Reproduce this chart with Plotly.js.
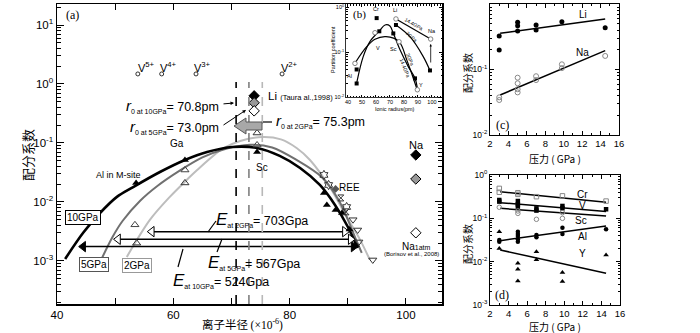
<!DOCTYPE html>
<html><head><meta charset="utf-8">
<script src="https://cdn.plot.ly/plotly-3.0.1.min.js"></script>
<style>html,body{margin:0;padding:0;background:#fff}#chart{width:700px;height:333px}</style>
</head><body><div id="chart"></div>
<script>
// ================= DATA =================
// (a) lattice-strain fits: ionic radius (pm) -> partition coefficient
const fit10_r = [41.4,44.5,47.4,50.3,53.1,57.7,62.0,65.8,70.2,74.4,78.3,81.8,85.2,87.8,90.0,91.7];
const fit10_D = [0.00108,0.0030,0.0065,0.0122,0.0179,0.0322,0.0515,0.0703,0.0855,0.0822,0.0603,0.0377,0.0194,0.0089,0.0038,0.00166];
const fit5_r  = [47.7,49.5,51.3,54.3,57.2,61.1,65.0,68.5,73.2,77.0,81.2,85.5,88.5,91.5,92.4];
const fit5_D  = [0.0011,0.0025,0.0048,0.0105,0.0185,0.034,0.057,0.077,0.093,0.084,0.0515,0.0265,0.0105,0.0022,0.00137];
const fit2_r  = [52.0,56.0,59.4,62.3,64.1,68.5,71.5,75.4,78.5,81.2,83.5,86.9,89.8,92.1,93.8];
const fit2_D  = [0.00117,0.0050,0.0122,0.0236,0.0348,0.080,0.108,0.126,0.115,0.0822,0.0515,0.0179,0.0056,0.0023,0.00104];
// (a) measured points
const p10_r = [53.6,62.0,74.4,85.9,86.4,87.9,89.0,90.3,91.4];
const p10_D = [0.021,0.0515,0.0703,0.0142,0.0089,0.0073,0.0065,0.0034,0.00187];
const p5_r  = [53.4,62.0,74.4];
const p5_D  = [0.0041,0.0348,0.0925];
const p2_r  = [53.7,62.0,74.4];
const p2_D  = [0.0020,0.021,0.1476];
const reeDown_r = [90.9,91.7,91.9,94.3];
const reeDown_D = [0.0050,0.00335,0.0021,0.00104];
const reeStar_r = [85.9,86.7,89.8];
const reeStar_D = [0.0287,0.0194,0.0082];
const reeHour_r = [88.8,89.7];
const reeHour_D = [0.0117,0.0068];
const reeDia_r = [87.9];
const reeDia_D = [0.0166];
const li_r = [73.9,73.9,73.9];
const li_D = [0.63,0.48,0.35];
const na_r = [101.7,101.7,101.7];
const na_D = [0.0626,0.0245,0.0030];
const vIon_r = [53.9,58.0,63.9,78.7];
const vIon_D = [1.48,1.48,1.48,1.48];
const vIon_lbl = ['V<sup>5+</sup>','V<sup>4+</sup>','V<sup>3+</sup>','V<sup>2+</sup>'];
const r0_values = [70.8,73.0,75.3];           // pm, at 10, 5, 2 GPa
const E_values  = [524,567,703];              // GPa, at 10, 5, 2 GPa
const eLeft  = [44.5,50.5,56.3];              // 10, 5, 2 GPa arrows
const eRight = [91.0,90.5,89.5];
const eLevel = [0.00175,0.00233,0.00314];
// (b) inset: ionic radius (pm) vs partition coefficient
const bUp_r  = [46.2,50.9,55.7,62.4,66.5,70.0,72.4,77.2,83.1,87.9,89.5];
const bUp_D  = [0.0203,0.0793,0.171,0.295,0.401,0.381,0.262,0.112,0.0475,0.0262,0.0165];
const bLow_r = [45.0,53.4,59.3,67.2,76.5,82.0,86.7,89.5];
const bLow_D = [0.0565,0.132,0.193,0.220,0.171,0.067,0.0262,0.0144];
const bLiNaHi_r = [74.3,99.1];
const bLiNaHi_D = [0.546,0.195];
const bLiNaLo_r = [74.3,84.3,93.8,98.6];
const bLiNaLo_D = [0.401,0.220,0.0793,0.0387];
const bSq_r = [60.5,74.3,98.6,62.4,72.4,46.2,46.2,87.9];
const bSq_D = [0.57,0.40,0.039,0.29,0.26,0.041,0.020,0.026];
const bCi_r = [74.3,99.1,59.3,76.5,45.0,89.6];
const bCi_D = [0.546,0.195,0.27,0.17,0.056,0.0145];
// (c) pressure (GPa) vs partition coefficient
const cLi_P = [3,3,5,5,5,7,7,9.8,14.5];
const cLi_D = [0.325,0.198,0.525,0.466,0.387,0.478,0.401,0.537,0.435];
const cLiFit_P = [3.1,14.5], cLiFit_D = [0.357,0.590];
const cNa_P = [3,3,5,5,5,5,7,7,9.8,9.8,14.5];
const cNa_D = [0.0376,0.0342,0.075,0.0616,0.050,0.0447,0.079,0.069,0.12,0.105,0.161];
const cNaFit_P = [3.1,14.5], cNaFit_D = [0.0408,0.194];
// (d)
const dCr_P = [3,3,5,5,7,9.8,14.5];
const dCr_D = [0.49,0.40,0.39,0.358,0.316,0.33,0.25];
const dCrFit_P = [3.1,14.5], dCrFit_D = [0.41,0.234];
const dV_P = [3,3,5,5,5,7,7,9.8,9.8,14.5];
const dV_D = [0.265,0.243,0.251,0.21,0.186,0.17,0.151,0.193,0.17,0.162];
const dVFit_P = [3.1,14.5], dVFit_D = [0.23,0.143];
const dSc_P = [3,5,5,7,9.8,9.8];
const dSc_D = [0.18,0.148,0.13,0.095,0.1,0.135];
const dScFit_P = [3.1,14.5], dScFit_D = [0.17,0.113];
const dAl_P = [3,3,5,5,5,5,5,7,7,9.8,9.8,14.5];
const dAl_D = [0.0316,0.0289,0.049,0.0436,0.039,0.0328,0.0289,0.041,0.0365,0.061,0.0436,0.056];
const dAlFit_P = [3.1,14.5], dAlFit_D = [0.0305,0.0665];
const dY_P = [3,3,5,5,5,7,7,9.8,9.8,14.5];
const dY_D = [0.049,0.020,0.0092,0.0067,0.0036,0.017,0.011,0.0056,0.0035,0.0142];
const dYFit_P = [3.1,14.5], dYFit_D = [0.0186,0.0054];

// ================= STYLE / LAYOUT =================
const W=700,H=333;
const SANS='"Liberation Sans",Arial,sans-serif';
const SERIF='"Liberation Serif","Times New Roman",serif';
const CJK='"Noto Sans CJK SC","Noto Sans",sans-serif';
function minorVals(lo,hi){const v=[];for(let e=lo;e<hi;e++)for(let m=2;m<=9;m++)v.push(+(m*Math.pow(10,e)).toPrecision(3));return v;}
function sup(e){return '10<sup>'+e+'</sup>';}
function A(x,y,text,o){o=o||{};const f=Object.assign({family:SANS,size:10,color:'#000'},o.font||{});const a=Object.assign({xref:'paper',yref:'paper',x:x/W,y:1-y/H,text:text,showarrow:false,xanchor:'center',yanchor:'middle'},o);a.font=f;return a;}
function L(x0,y0,x1,y1,c,w,d){return {type:'line',xref:'paper',yref:'paper',x0:x0/W,y0:1-y0/H,x1:x1/W,y1:1-y1/H,line:{color:c||'#000',width:w||1,dash:d||'solid'}};}
function base(o){return Object.assign({showline:true,linecolor:'#000',linewidth:1,mirror:'ticks',ticks:'inside',tickcolor:'#000',showgrid:false,zeroline:false,fixedrange:true},o);}

const tr=[];
const M=(o)=>Object.assign({xaxis:'x',yaxis:'y',hoverinfo:'skip',showlegend:false},o);
tr.push(M({x:fit2_r,y:fit2_D,mode:'lines',line:{color:'#bdbdbd',width:2,shape:'spline',smoothing:0.9}}));
tr.push(M({x:fit5_r,y:fit5_D,mode:'lines',line:{color:'#707070',width:2,shape:'spline',smoothing:0.9}}));
tr.push(M({x:fit10_r,y:fit10_D,mode:'lines',line:{color:'#000',width:2.6,shape:'spline',smoothing:0.9}}));
// E arrows
const eFill=['#000','#fff','#fff'];
for(let i=0;i<3;i++){
  tr.push(M({x:[eLeft[i],eRight[i]],y:[eLevel[i],eLevel[i]],mode:'lines+markers',line:{color:'#000',width:1.5},
    marker:{symbol:['triangle-left','triangle-right'],size:9,color:eFill[i],line:{color:'#000',width:1}},cliponaxis:false}));
}
tr.push(M({x:p10_r,y:p10_D,mode:'markers',marker:{symbol:'triangle-up',size:7,color:'#000'}}));
tr.push(M({x:p5_r,y:p5_D,mode:'markers',marker:{symbol:'triangle-up-open',size:7,color:'#444',line:{width:1}}}));
tr.push(M({x:p2_r,y:p2_D,mode:'markers',marker:{symbol:'triangle-up-open',size:7,color:'#333',line:{width:1}}}));
tr.push(M({x:reeDown_r,y:reeDown_D,mode:'markers',marker:{symbol:'triangle-down-open',size:7,color:'#333',line:{width:1}}}));
tr.push(M({x:reeStar_r,y:reeStar_D,mode:'markers',marker:{symbol:'hexagram-open',size:7,color:'#333',line:{width:1}}}));
tr.push(M({x:reeHour_r,y:reeHour_D,mode:'markers',marker:{symbol:'hourglass-open',size:6,color:'#333',line:{width:1}}}));
tr.push(M({x:reeDia_r,y:reeDia_D,mode:'markers',marker:{symbol:'diamond',size:6,color:'#555'}}));
tr.push(M({x:li_r,y:li_D,mode:'markers',marker:{symbol:'diamond',size:8,color:['#000','#999','#fff'],line:{color:'#000',width:1}}}));
tr.push(M({x:na_r,y:na_D,mode:'markers',marker:{symbol:'diamond',size:8,color:['#000','#999','#fff'],line:{color:'#000',width:1}}}));
tr.push(M({x:vIon_r,y:vIon_D,mode:'markers',marker:{symbol:'circle-open',size:4,color:'#000',line:{width:0.8}}}));
// inset (b)
const B=(o)=>Object.assign({xaxis:'x2',yaxis:'y2',hoverinfo:'skip',showlegend:false},o);
tr.push(B({x:bUp_r,y:bUp_D,mode:'lines',line:{color:'#000',width:1.2,shape:'spline'}}));
tr.push(B({x:bLow_r,y:bLow_D,mode:'lines',line:{color:'#000',width:1.2,shape:'spline'}}));
tr.push(B({x:bLiNaHi_r,y:bLiNaHi_D,mode:'lines',line:{color:'#000',width:1.2}}));
tr.push(B({x:bLiNaLo_r,y:bLiNaLo_D,mode:'lines',line:{color:'#000',width:1.2,shape:'spline'}}));
tr.push(B({x:bSq_r,y:bSq_D,mode:'markers',marker:{symbol:'square',size:4,color:'#000'}}));
tr.push(B({x:bCi_r,y:bCi_D,mode:'markers',marker:{symbol:'circle',size:4.5,color:'#fff',line:{color:'#666',width:0.8}}}));
// (c)
const C=(o)=>Object.assign({xaxis:'x3',yaxis:'y3',hoverinfo:'skip',showlegend:false},o);
tr.push(C({x:cLiFit_P,y:cLiFit_D,mode:'lines',line:{color:'#000',width:1.5}}));
tr.push(C({x:cNaFit_P,y:cNaFit_D,mode:'lines',line:{color:'#000',width:1.5}}));
tr.push(C({x:cLi_P,y:cLi_D,mode:'markers',marker:{symbol:'circle',size:5,color:'#000'}}));
tr.push(C({x:cNa_P,y:cNa_D,mode:'markers',marker:{symbol:'circle-open',size:5,color:'#888',line:{width:1}}}));
// (d)
const D=(o)=>Object.assign({xaxis:'x4',yaxis:'y4',hoverinfo:'skip',showlegend:false},o);
[[dCrFit_P,dCrFit_D],[dVFit_P,dVFit_D],[dScFit_P,dScFit_D],[dAlFit_P,dAlFit_D],[dYFit_P,dYFit_D]].forEach(f=>
  tr.push(D({x:f[0],y:f[1],mode:'lines',line:{color:'#000',width:1.5}})));
tr.push(D({x:dCr_P,y:dCr_D,mode:'markers',marker:{symbol:'square-open',size:4.5,color:'#888',line:{width:1}}}));
tr.push(D({x:dV_P,y:dV_D,mode:'markers',marker:{symbol:'square',size:4.5,color:'#000'}}));
tr.push(D({x:dSc_P,y:dSc_D,mode:'markers',marker:{symbol:'circle-open',size:4.5,color:'#888',line:{width:1}}}));
tr.push(D({x:dAl_P,y:dAl_D,mode:'markers',marker:{symbol:'circle',size:4.5,color:'#000'}}));
tr.push(D({x:dY_P,y:dY_D,mode:'markers',marker:{symbol:'triangle-up',size:5,color:'#000'}}));

function r0text(p,v){return '<span style="font-size:15px"><i>r</i></span><sub><span style="font-size:7px">0 at '+p+'</span></sub>= '+v.toFixed(1)+'pm';}
function Etext(p,v){return '<span style="font-size:17px"><i>E</i></span><sub><span style="font-size:7px">at '+p+'</span></sub>= '+v+'Gpa';}

const ann=[
  A(72,15,'(a)',{font:{family:SERIF,size:12}}),
  A(146,67,vIon_lbl[0],{font:{size:11}}), A(168,67,vIon_lbl[1],{font:{size:11}}),
  A(202,67,vIon_lbl[2],{font:{size:11}}), A(289,67,vIon_lbl[3],{font:{size:11}}),
  A(221,106,r0text('10GPa',r0_values[0]),{xanchor:'right',font:{size:12.5}}),
  A(221,127,r0text('5GPa',r0_values[1]),{xanchor:'right',font:{size:12.5}}),
  A(274,121,r0text('2GPa',r0_values[2]),{xanchor:'left',font:{size:12.5}}),
  {xref:'paper',yref:'paper',x:234/W,y:1-103/H,ax:-12,ay:1,showarrow:true,arrowhead:2,arrowsize:0.7,arrowwidth:1,arrowcolor:'#000',text:''},
  {xref:'paper',yref:'paper',x:246/W,y:1-110/H,ax:-24,ay:16,showarrow:true,arrowhead:2,arrowsize:0.7,arrowwidth:1,arrowcolor:'#000',text:''},
  A(266,96,'Li <span style="font-size:7.5px">(Taura al.,1998)</span>',{xanchor:'left',font:{size:11.5}}),
  A(177,143,'Ga',{font:{size:10}}),
  A(118,175,'Al in M-site',{font:{size:9}}),
  A(262,168,'Sc',{font:{size:10}}),
  A(349,187,'REE',{font:{size:10}}),
  A(416,145,'Na',{font:{size:11}}),
  A(416,246,'Na<span style="font-size:7px">1atm</span>',{font:{size:10}}),
  A(411,254,'(Borisov et al., 2008)',{font:{size:6}}),
  A(83,217,'10GPa',{bordercolor:'#000',borderwidth:1,borderpad:1,bgcolor:'#fff',font:{size:10}}),
  A(94,264,'5GPa',{bordercolor:'#555',borderwidth:1,borderpad:1,bgcolor:'#fff',font:{size:10}}),
  A(137,265,'2GPa',{bordercolor:'#999',borderwidth:1,borderpad:1,bgcolor:'#fff',font:{size:10}}),
  A(214,219,Etext('2GPa',E_values[2]),{xanchor:'left',font:{size:12.5}}),
  A(206,262,Etext('5GPa',E_values[1]),{xanchor:'left',font:{size:12.5}}),
  A(171,280,Etext('10GPa',E_values[0]),{xanchor:'left',font:{size:12.5}}),
  // axis titles
  A(242,324,'离子半径 <span style="font-family:Liberation Serif">(×10<sup>-6</sup>)</span>',{font:{family:CJK,size:11.5}}),
  A(27,155,'配分系数',{textangle:-90,font:{family:CJK,size:13}}),
  A(555,158,'压力 ( GPa )',{font:{family:CJK,size:10}}),
  A(467,73,'配分系数',{textangle:-90,font:{family:CJK,size:10}}),
  A(555,326,'压力 ( GPa )',{font:{family:CJK,size:10}}),
  A(467,244,'配分系数',{textangle:-90,font:{family:CJK,size:10}}),
  // inset
  A(360,14,'(b)',{font:{family:SERIF,size:11}}),
  A(395,109,'Ionic radius(pm)',{font:{size:5.5}}),
  A(333,50,'Partition coefficient',{textangle:-90,font:{size:5.5}}),
  A(376,9,'Cr',{font:{size:5.5}}), A(395,10,'Li',{font:{size:5.5}}), A(432,31,'Na',{font:{size:5.5}}),
  A(378,48,'V',{font:{size:5.5}}), A(393,49,'Sc',{font:{size:5.5}}), A(349,76,'Al',{font:{size:5.5}}),
  A(421,85,'Y',{font:{size:5.5}}),
  A(414,24,'14.4GPa',{textangle:30,font:{size:5}}),
  A(412,37,'3GPa',{textangle:42,font:{size:5}}),
  A(410,59,'3GPa',{textangle:68,font:{size:5}}),
  A(405,68,'14.4GPa',{textangle:68,font:{size:5}}),
  {xref:'paper',yref:'paper',x:430.7/W,y:1-44/H,ax:0,ay:20,showarrow:true,arrowhead:2,arrowsize:0.6,arrowwidth:0.8,arrowcolor:'#000',text:''},
  // (c),(d)
  A(583,15,'Li',{font:{size:10}}), A(582,52,'Na',{font:{size:10}}),
  A(582,194,'Cr',{font:{size:10}}), A(582,205,'V',{font:{size:10}}), A(581,220,'Sc',{font:{size:10}}),
  A(582,237,'Al',{font:{size:10}}), A(582,253,'Y',{font:{size:10}}),
  A(502,125,'(c)',{font:{family:SERIF,size:12}}), A(502,295,'(d)',{font:{family:SERIF,size:12}})
];

const pa=(x,y)=>(x/W).toFixed(4)+','+(1-y/H).toFixed(4);
const arrowPath='M'+pa(234,126)+' L'+pa(246,118)+' L'+pa(246,122)+' L'+pa(262,122)+' L'+pa(262,130)+' L'+pa(246,130)+' L'+pa(246,134)+' Z';
const r0Colors=['#000','#808080','#b8b8b8'];
const shapes=r0_values.map((v,i)=>({type:'line',xref:'x',yref:'paper',x0:v,x1:v,y0:1-304/H,y1:1-82/H,line:{color:r0Colors[i],width:1.6,dash:'dash'}}));
shapes.push({type:'path',xref:'paper',yref:'paper',path:arrowPath,fillcolor:'#a8a8a8',line:{color:'#555',width:1}});
shapes.push(L(208,232,216,221,'#000',1.2));
shapes.push(L(222,239,217,252,'#000',1.2));
shapes.push(L(183,249,178,267,'#000',1.2));
shapes.push(L(263,122,272,122,'#000',1.2));

const layout={
  width:W,height:H,margin:{l:0,r:0,t:0,b:0},paper_bgcolor:'#fff',plot_bgcolor:'#fff',
  showlegend:false,hovermode:false,font:{family:SANS,color:'#000'},
  xaxis:base({domain:[57/W,442/W],anchor:'y',range:[40,106.2],tickmode:'array',tickvals:[40,60,80,100],
    ticklen:6,linewidth:1.5,tickfont:{family:SANS,size:11.5},
    minor:{tickmode:'array',tickvals:[50,70,90],ticks:'inside',ticklen:6,tickcolor:'#000'}}),
  yaxis:base({domain:[1-304/H,1-4/H],anchor:'x',type:'log',range:[-3.73,1.356],tickmode:'array',
    tickvals:[1e-3,1e-2,1e-1,1,10],ticktext:[sup(-3),sup(-2),sup(-1),sup(0),sup(1)],ticklen:7,linewidth:1.5,
    minor:{tickmode:'array',tickvals:minorVals(-4,2),ticks:'inside',ticklen:4,tickcolor:'#000'},tickfont:{family:SANS,size:11.5}}),
  xaxis2:base({domain:[346/W,442/W],anchor:'y2',range:[38.6,107.2],tickmode:'array',tickvals:[40,50,60,70,80,90,100],
    ticklen:2.5,linewidth:0.8,minor:{tickmode:'linear',tick0:0,dtick:2,ticks:'inside',ticklen:1.5,tickcolor:'#000'},tickfont:{family:SANS,size:5.5}}),
  yaxis2:base({domain:[1-97/H,1-4/H],anchor:'x2',type:'log',range:[-2,0.07],tickmode:'array',tickvals:[0.01,0.1,1],
    ticktext:[sup(-2),sup(-1),sup(0)],ticklen:3,linewidth:0.8,minor:{tickmode:'array',tickvals:minorVals(-2,1),ticks:'inside',ticklen:1.5,tickcolor:'#000'},tickfont:{family:SANS,size:5.5}}),
  xaxis3:base({domain:[490/W,619/W],anchor:'y3',range:[2,16],tickmode:'linear',tick0:2,dtick:2,ticklen:4,ticklabelstandoff:0,
    minor:{tickmode:'linear',tick0:2,dtick:1,ticks:'inside',ticklen:2,tickcolor:'#000'},tickfont:{family:SANS,size:9.5}}),
  yaxis3:base({domain:[1-135/H,1-4/H],anchor:'x3',type:'log',range:[-2,0],tickmode:'array',tickvals:[0.01,0.1,1],
    ticktext:[sup(-2),sup(-1),sup(0)],ticklen:4,minor:{tickmode:'array',tickvals:minorVals(-2,0),ticks:'inside',ticklen:2,tickcolor:'#000'},tickfont:{family:SANS,size:8.5}}),
  xaxis4:base({domain:[490/W,620/W],anchor:'y4',range:[2,16],tickmode:'linear',tick0:2,dtick:2,ticklen:4,ticklabelstandoff:0,
    minor:{tickmode:'linear',tick0:2,dtick:1,ticks:'inside',ticklen:2,tickcolor:'#000'},tickfont:{family:SANS,size:9.5}}),
  yaxis4:base({domain:[1-305/H,1-175/H],anchor:'x4',type:'log',range:[-3,0],tickmode:'array',tickvals:[0.001,0.01,0.1,1],
    ticktext:[sup(-3),sup(-2),sup(-1),sup(0)],ticklen:4,minor:{tickmode:'array',tickvals:minorVals(-3,0),ticks:'inside',ticklen:2,tickcolor:'#000'},tickfont:{family:SANS,size:8.5}}),
  annotations:ann,shapes:shapes
};
Plotly.newPlot('chart',tr,layout,{staticPlot:true,displayModeBar:false});
</script></body></html>
